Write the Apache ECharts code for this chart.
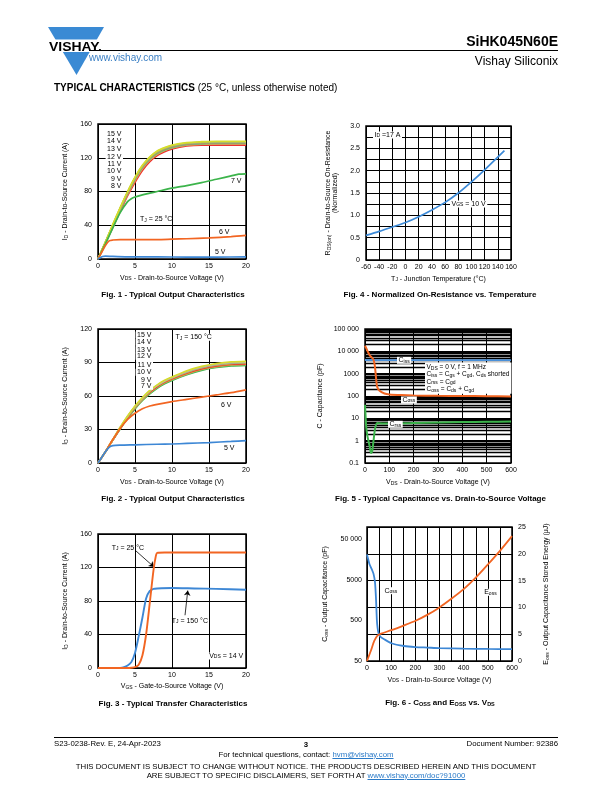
<!DOCTYPE html>
<html><head><meta charset="utf-8">
<script src="https://cdn.jsdelivr.net/npm/echarts@6/dist/echarts.min.js"></script>
<style>
body{margin:0;background:#fff;}
#page{position:relative;width:612px;height:792px;overflow:hidden;font-family:'Liberation Sans',Arial,Helvetica,sans-serif;background:#fff;}
#chart{position:absolute;left:0;top:0;width:612px;height:792px;}
.t{position:absolute;white-space:nowrap;color:#000;line-height:1.15;}
.c{position:absolute;left:0;width:612px;text-align:center;white-space:nowrap;color:#000;font-size:7.8px;line-height:1.15;}
a{color:#2a7ac8;text-decoration:underline;}
</style></head><body>
<div id="page">
<div id="chart"></div>
<svg style="position:absolute;left:46px;top:26px" width="62" height="52">
 <polygon points="2,1 58,1 30.5,49" fill="#3a8ad4"/>
 <rect x="0" y="13.5" width="62" height="12.5" fill="#fff"/>
 <text x="3" y="24.8" font-family="Liberation Sans, Arial" font-weight="bold" font-size="13.5" fill="#000" textLength="53" lengthAdjust="spacingAndGlyphs">VISHAY.</text>
</svg>
<div style="position:absolute;left:89px;top:50px;width:469px;height:1px;background:#000"></div>
<div class="t" style="left:89px;top:52px;font-size:10px;color:#3a7fc4">www.vishay.com</div>
<div class="t" style="right:54px;top:33px;font-size:14px;font-weight:bold">SiHK045N60E</div>
<div class="t" style="right:54px;top:55px;font-size:12px">Vishay Siliconix</div>
<div class="t" style="left:54px;top:82px;font-size:10px"><b>TYPICAL CHARACTERISTICS</b> (25 °C, unless otherwise noted)</div>

<div style="position:absolute;left:54px;top:737px;width:504px;height:1px;background:#000"></div>
<div class="t" style="left:54px;top:740px;font-size:7.8px">S23-0238-Rev. E, 24-Apr-2023</div>
<div class="c" style="top:740.5px;font-weight:bold">3</div>
<div class="t" style="right:54px;top:740px;font-size:7.8px">Document Number: 92386</div>
<div class="c" style="top:751px">For technical questions, contact: <a>hvm@vishay.com</a></div>
<div class="c" style="top:763px">THIS DOCUMENT IS SUBJECT TO CHANGE WITHOUT NOTICE. THE PRODUCTS DESCRIBED HEREIN AND THIS DOCUMENT</div>
<div class="c" style="top:772px">ARE SUBJECT TO SPECIFIC DISCLAIMERS, SET FORTH AT <a>www.vishay.com/doc?91000</a></div>
</div>
<script>
const FF = "'Liberation Sans', Arial, Helvetica, sans-serif";

// ---------- Fig. 1 : typical output characteristics, TJ = 25 °C ----------
const f1Vds = [0,1,2,3,4,5,6,7,8,9,10,12,14,16,18,20];
const f1Id15V = [0,20,41,61,80,97,111,121,128,132,135,138,139,139.5,139.5,139.5];
const f1Id14V = [0,20,40.5,60.5,79.5,96.5,110.5,120.5,127.5,131.5,134.5,137.5,138.5,139,139,139];
const f1Id13V = [0,20,40,60,79,96,110,120,127,131,134,137,138,138.5,138.5,138.5];
const f1Id12V = [0,19.5,40,60,78.5,95.5,109.5,119.5,126.5,130.5,133.5,136.5,137.5,138,138,138];
const f1Id11V = [0,19.5,39.5,59.5,78,95,109,119,126,130,133,136,137,137.5,137.5,137.5];
const f1Id10V = [0,19.5,39,59,77.5,94,108,118,125,129,132,135.5,136.5,137,137,137];
const f1Id9V  = [0,19,38.5,58,76.5,93,107,117,124,128.5,131.5,135,136,136.5,136.5,136.5];
const f1Id8V  = [0,18.5,37.5,56.5,75,91,105,115.5,122.5,127,130.5,134,135,135,135,135];
const f1Vds7 = [0,1,2,3,4,4.5,5,6,7,8,10,12,14,16,18,19,20];
const f1Id7V = [0,18,37,55,68,71.5,73.5,76,78,80,84,87,90.5,94.5,98.5,100.5,101];
const f1Vds6 = [0,0.5,1,1.5,2,3,5,8,10,12,15,18,20];
const f1Id6V = [0,8,16,21.5,22.5,23,23,23,23.5,24,25,26.5,28];
const f1Vds5 = [0,0.3,0.6,1,2,4,8,12,16,20];
const f1Id5V = [0,1.5,3,3.5,3,2.5,2.5,2.3,2.3,2.5];
const f1Labels = ['15 V','14 V','13 V','12 V','11 V','10 V','9 V','8 V'];

// ---------- Fig. 2 : typical output characteristics, TJ = 150 °C ----------
const f2Vds = [0,1,2,3,4,5,6,7,8,9,10,12,14,16,18,20];
const f2Id15V = [0,10,21,32,42,51,58.5,65,70,74,77,82.5,86.5,89,90.5,91];
const f2Id14V = [0,10,21,32,42,50.5,58,64.5,69.5,73.5,76.5,82,86,88.5,90,90.5];
const f2Id13V = [0,10,21,31.5,41.5,50.5,58,64.5,69.5,73.5,76.5,81.5,85.5,88,89.5,90];
const f2Id12V = [0,10,21,31.5,41.5,50,57.5,64,69,73,76,81,85,87.5,89,89.5];
const f2Id11V = [0,10,20.5,31,41,50,57.5,63.5,68.5,72.5,75.5,80.5,84.5,87,88.5,89];
const f2Id10V = [0,10,20.5,31,41,49.5,57,63,68,72,75,80,84,86.5,88,88.5];
const f2Id9V  = [0,10,20.5,31,40.5,49,56.5,62.5,67.5,71.5,74.5,79.5,83.5,86,87.5,88];
const f2Id7V  = [0,10,20.5,30.5,40,48.5,56,62,67,71,74,79,83,85.5,87,87.5];
const f2Vds6 = [0,1,2,3,4,5,6,7,8,10,12,14,16,18,20];
const f2Id6V = [0,10,21,31,39,44.5,48.5,51,52.5,55,57,59,61,63,65.5];
const f2Vds5 = [0,0.5,1,1.5,2,3,5,8,10,12,15,18,20];
const f2Id5V = [0,5,10,14,15.5,16,16.3,16.8,17,17.5,18.3,19.3,20];
const f2Labels = ['15 V','14 V','13 V','12 V','11 V','10 V','9 V','7 V'];

// ---------- Fig. 3 : transfer characteristics ----------
const f3Vgs25 = [0,2,4,4.5,5,5.5,6,6.5,7,7.5,7.8,8,9,10,15,20];
const f3Id25  = [0,0,0,0.3,1,4,15,40,78,117,133,137.5,138,138,138,138];
const f3Vgs150 = [0,2,3,3.5,4,4.5,5,5.5,6,6.5,7,7.5,8,10,13,16,20];
const f3Id150  = [0,0,0.2,1,3,7,18,38,60,83,92,94.5,95,95.5,95,94.5,93.5];

// ---------- Fig. 4 : normalized on-resistance vs temperature ----------
const f4Tj = [-60,-40,-20,0,20,40,60,80,100,120,150];
const f4Rds = [0.55,0.64,0.74,0.84,0.97,1.12,1.29,1.5,1.75,2.02,2.45];

// ---------- Fig. 5 : capacitance vs VDS ----------
const f5VdsCiss = [0,50,100,200,300,400,500,600];
const f5Ciss = [4100,4000,4000,4000,4000,4000,4000,4000];
const f5VdsCoss = [0,5,10,20,30,35,40,43,46,50,60,80,100,150,200,300,400,500,600];
const f5Coss = [17800,14000,10500,6500,5000,4200,2400,1200,550,260,170,130,118,110,106,102,100,98,95];
const f5VdsCrss = [0,2,5,10,15,20,25,30,35,40,45,50,60,80,100,200,300,400,500,600];
const f5Crss = [40,15,4,1.6,0.9,0.5,0.28,0.35,1,2.8,5,6.2,6,5.8,5.8,6.2,6.5,6.8,7,7.2];
const f5CapTickLabels = ['0.1','1','10','100','1000','10 000','100 000'];
const f5MinorGrid = [0.2,0.3,0.4,0.5,0.6,0.7,0.8,0.9,2,3,4,5,6,7,8,9,20,30,40,50,60,70,80,90,200,300,400,500,600,700,800,900,2000,3000,4000,5000,6000,7000,8000,9000,20000,30000,40000,50000,60000,70000,80000,90000];

// ---------- Fig. 6 : Coss and Eoss vs VDS ----------
const f6VdsCoss = [0,5,10,20,27,33,37,41,44,47,55,71,101,153,200,250,300,400,500,600];
const f6Coss = [21000,16000,12300,9000,7000,4400,1850,490,320,250,200,172,137,117,110,107,104,101,99,98];
const f6VdsEoss = [0,16,30,44,58,101,151,201,249,300,349,400,451,500,551,600];
const f6Eoss = [0,1.9,3.75,4.8,5.1,5.75,6.6,7.5,8.6,10,11.6,13.4,15.6,18,20.6,23.3];
const f6CossUnit = 50;   // left log axis is expressed in multiples of 50 pF
const f6CossTickLabels = ['50','500','5000','50 000'];

// ---------- colours ----------
const BLUE = '#3d87d5', ORANGE = '#f26522', GREEN = '#3cb44b', RED = '#ee2f2f';

function pairs(xs, ys, k) { return xs.map((x, i) => [x, k ? ys[i] / k : ys[i]]); }
function ln(gi, yi, xs, ys, color, w, extra) {
  return Object.assign({type:'line', xAxisIndex:gi, yAxisIndex:yi, data:pairs(xs, ys), symbol:'none', showSymbol:false,
    smooth:0.25, lineStyle:{color:color, width:w||1.7}, itemStyle:{color:color}, silent:true, z:5}, extra||{});
}

const SUBS = {fontSize:5, lineHeight:5, verticalAlign:'bottom', fontFamily:FF, color:'#000', fill:'#000'};
const SUBB = {fontSize:5.5, lineHeight:5, verticalAlign:'bottom', fontFamily:FF, fontWeight:'bold', color:'#000', fill:'#000'};
const AL = {color:'#000', fontSize:7, fontFamily:FF, hideOverlap:false, showMinLabel:true, showMaxLabel:true};
const SPL = {show:true, lineStyle:{color:'#000', width:1, type:'solid'}};
const NTS = {color:'#000', fontSize:7, fontFamily:FF, rich:{s:SUBS}};

function grid(l, t, w, h) { return {left:l, top:t, width:w, height:h, show:true, borderColor:'#000', borderWidth:1.5, backgroundColor:'rgba(0,0,0,0)', containLabel:false, outerBoundsMode:'none'}; }
function xAx(gi, min, max, interval, name, gap, lab) {
  return {type:'value', gridIndex:gi, min:min, max:max, interval:interval, name:name, nameLocation:'middle', nameGap:gap, nameTextStyle:NTS,
    axisLine:{show:false}, axisTick:{show:false}, axisLabel:Object.assign({}, AL, {margin:4}, lab||{}), splitLine:SPL};
}
function yAx(gi, min, max, interval, name, gap, lab, extra) {
  return Object.assign({type:'value', gridIndex:gi, min:min, max:max, interval:interval, name:name, nameLocation:'middle', nameGap:gap, nameTextStyle:NTS,
    axisLine:{show:false}, axisTick:{show:false}, axisLabel:Object.assign({}, AL, {margin:6}, lab||{}), splitLine:SPL}, extra||{});
}
function T(x, y, text, o) {
  return {type:'text', x:x, y:y, z:100, silent:true,
    style:Object.assign({text:text, fill:'#000', fontSize:7, fontFamily:FF, align:'left', verticalAlign:'middle', rich:{s:SUBS, b:SUBB}}, o||{})};
}
const WB = {backgroundColor:'#fff', padding:[0,1.5]};
function W(o) { return Object.assign({}, WB, o||{}); }
function cap(x, y, text) { return T(x, y, text, {align:'center', fontSize:8, fontWeight:'bold'}); }

const option = {
  animation:false,
  textStyle:{fontFamily:FF},
  grid:[
    grid(98, 124, 148, 135),   // Fig 1
    grid(366, 126, 145, 134),  // Fig 4
    grid(98, 329, 148, 134),   // Fig 2
    grid(365, 329, 146, 134),  // Fig 5
    grid(98, 534, 148, 134),   // Fig 3
    grid(367, 527, 145, 134)   // Fig 6
  ],
  xAxis:[
    xAx(0, 0, 20, 5, 'V{s|DS} - Drain-to-Source Voltage (V)', 15.5),
    xAx(1, -60, 160, 20, 'T{s|J} - Junction Temperature (°C)', 15.5),
    xAx(2, 0, 20, 5, 'V{s|DS} - Drain-to-Source Voltage (V)', 15.5),
    xAx(3, 0, 600, 100, 'V{s|DS} - Drain-to-Source Voltage (V)', 16),
    xAx(4, 0, 20, 5, 'V{s|GS} - Gate-to-Source Voltage (V)', 15),
    xAx(5, 0, 600, 50, 'V{s|DS} - Drain-to-Source Voltage (V)', 15.5, {formatter:v => (v % 100 === 0 ? String(v) : '')})
  ],
  yAxis:[
    yAx(0, 0, 160, 40, 'I{s|D} - Drain-to-Source Current (A)', 29),
    yAx(1, 0, 3, 0.25, 'R{s|DS(on)} - Drain-to-Source On-Resistance\n(Normalized)', 27,
        {formatter:v => { const h = v * 2; if (Math.abs(h - Math.round(h)) > 1e-6) return ''; return v === 0 ? '0' : v.toFixed(1); }}),
    yAx(2, 0, 120, 30, 'I{s|D} - Drain-to-Source Current (A)', 29),
    {type:'log', logBase:10, gridIndex:3, min:0.1, max:100000, name:'C - Capacitance (pF)', nameLocation:'middle', nameGap:41, nameTextStyle:NTS,
      axisLine:{show:false}, axisTick:{show:false}, splitLine:SPL,
      axisLabel:Object.assign({}, AL, {margin:6, formatter:v => { const k = Math.round(Math.log10(v)) + 1; return f5CapTickLabels[k] || ''; }})},
    yAx(4, 0, 160, 40, 'I{s|D} - Drain-to-Source Current (A)', 29),
    {type:'log', logBase:10, gridIndex:5, min:1, max:2000, position:'left', name:'C{s|oss} - Output Capacitance (pF)', nameLocation:'middle', nameGap:38, nameTextStyle:NTS,
      axisLine:{show:false}, axisTick:{show:false}, splitLine:{show:false},
      axisLabel:Object.assign({}, AL, {margin:5, showMaxLabel:false, formatter:v => { const k = Math.round(Math.log10(v)); return f6CossTickLabels[k] || ''; }})},
    {type:'value', gridIndex:5, min:0, max:25, interval:5, position:'right', name:'E{s|oss} - Output Capacitance Stored Energy (μJ)', nameLocation:'middle', nameGap:31, nameTextStyle:NTS,
      axisLine:{show:false}, axisTick:{show:false}, splitLine:SPL, axisLabel:Object.assign({}, AL, {margin:6})}
  ],
  series:[
    // Fig 1
    ln(0,0,f1Vds,f1Id8V,RED,1.7),
    ln(0,0,f1Vds,f1Id9V,'#f0a050',1.6),
    ln(0,0,f1Vds,f1Id10V,'#7cc36a',1.6),
    ln(0,0,f1Vds,f1Id11V,'#909090',1.6),
    ln(0,0,f1Vds,f1Id12V,'#b0a040',1.6),
    ln(0,0,f1Vds,f1Id13V,'#a0a0a0',1.6),
    ln(0,0,f1Vds,f1Id14V,'#a8c84a',1.6),
    ln(0,0,f1Vds,f1Id15V,'#d6dc2c',1.7),
    ln(0,0,f1Vds7,f1Id7V,GREEN,1.7),
    ln(0,0,f1Vds6,f1Id6V,ORANGE,1.7),
    ln(0,0,f1Vds5,f1Id5V,BLUE,1.7),
    // Fig 4
    ln(1,1,f4Tj,f4Rds,'#3c8ad8',1.7),
    // Fig 2
    ln(2,2,f2Vds,f2Id7V,GREEN,1.7),
    ln(2,2,f2Vds,f2Id9V,'#7cc36a',1.6),
    ln(2,2,f2Vds,f2Id10V,'#f28c3a',1.6),
    ln(2,2,f2Vds,f2Id11V,RED,1.6),
    ln(2,2,f2Vds,f2Id12V,'#c8b040',1.6),
    ln(2,2,f2Vds,f2Id13V,'#9c9c9c',1.6),
    ln(2,2,f2Vds,f2Id14V,'#b8b8b8',1.6),
    ln(2,2,f2Vds,f2Id15V,'#d6dc2c',1.7),
    ln(2,2,f2Vds6,f2Id6V,ORANGE,1.7),
    ln(2,2,f2Vds5,f2Id5V,BLUE,1.7),
    // Fig 5 minor gridlines
    {type:'line', xAxisIndex:3, yAxisIndex:3, data:[], z:1, silent:true,
      markLine:{silent:true, symbol:['none','none'], animation:false, label:{show:false},
        lineStyle:{color:'#000', width:1.3, type:'solid'}, emphasis:{disabled:true},
        data:f5MinorGrid.map(v => ({yAxis:v}))}},
    ln(3,3,f5VdsCiss,f5Ciss,'#4a90d9',1.8,{smooth:false}),
    ln(3,3,f5VdsCoss,f5Coss,ORANGE,2),
    ln(3,3,f5VdsCrss,f5Crss,GREEN,2),
    // Fig 3
    ln(4,4,f3Vgs150,f3Id150,BLUE,1.9,{markLine:{silent:true, symbol:['none','arrow'], symbolSize:5, label:{show:false}, lineStyle:{color:'#000', width:0.8, type:'solid'},
      data:[[{coord:[11.76,63]},{coord:[12.13,92.4]}]]}}),
    ln(4,4,f3Vgs25,f3Id25,ORANGE,1.9,{markLine:{silent:true, symbol:['none','arrow'], symbolSize:5, label:{show:false}, lineStyle:{color:'#000', width:0.8, type:'solid'},
      data:[[{coord:[5.1,140]},{coord:[7.56,120.7]}]]}}),
    // Fig 6
    Object.assign(ln(5,5,f6VdsCoss,f6Coss,BLUE,1.8), {data:pairs(f6VdsCoss,f6Coss,f6CossUnit)}),
    ln(5,6,f6VdsEoss,f6Eoss,ORANGE,1.8)
  ],
  graphic:[].concat(
    f1Labels.map((s, i) => T(123, [134,141,149,156.7,164.3,171.3,179,186.3][i], s, W({align:'right'}))),
    [T(231,181.3,'7 V'), T(219,231.7,'6 V'), T(215,251.7,'5 V'), T(140,219.3,'T{s|J} = 25 °C')],
    f2Labels.map((s, i) => T(153, [335,342.3,349.7,356.3,365,372.3,379.7,386.3][i], s, W({align:'right'}))),
    [T(174,337.3,'T{s|J} = 150 °C', W()), T(221,405,'6 V'), T(224,448.3,'5 V')],
    [T(111.7,547.7,'T{s|J} = 25 °C'), T(171.7,620.7,'T{s|J} = 150 °C'), T(207.7,656,'V{s|DS} = 14 V', W())],
    [T(373,135,'I{s|D} =17 A', W()), T(450,204,'V{s|GS} = 10 V', W())],
    [T(397,360.3,'C{s|iss}', W()), T(401,400,'C{s|oss}', W()), T(388,424.3,'C{s|rss}', W()),
     T(425,362.5,'V{s|DS} = 0 V, f = 1 MHz\nC{s|iss} = C{s|gs} + C{s|gd}, C{s|ds} shorted\nC{s|rss} = C{s|gd}\nC{s|oss} = C{s|ds} + C{s|gd}',
       W({verticalAlign:'top', fontSize:6.5, lineHeight:7.3, padding:[1,2,1,1.5]}))],
    [T(383,590.7,'C{s|oss}', W()), T(482.7,592.3,'E{s|oss}', W())],
    [cap(173,295,'Fig. 1 - Typical Output Characteristics'),
     cap(440,295,'Fig. 4 - Normalized On-Resistance vs. Temperature'),
     cap(173,499,'Fig. 2 - Typical Output Characteristics'),
     cap(440.5,499,'Fig. 5 - Typical Capacitance vs. Drain-to-Source Voltage'),
     cap(173,704,'Fig. 3 - Typical Transfer Characteristics'),
     cap(440,703,'Fig. 6 - C{b|OSS} and E{b|OSS} vs. V{b|DS}')]
  )
};
const chart = echarts.init(document.getElementById('chart'), null, {renderer:'canvas'});
chart.setOption(option);
</script>
</body></html>
